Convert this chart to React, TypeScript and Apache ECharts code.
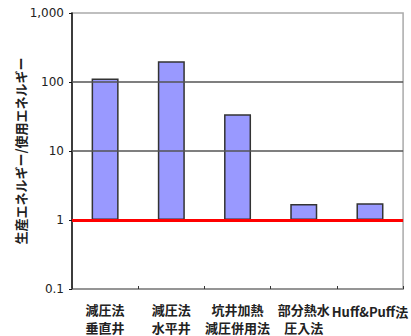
import React, { useEffect, useRef } from "react";
import * as echarts from "echarts";

// Energy return ratio (produced / consumed) by production method, log scale
const categories = [
  "減圧法\n垂直井",
  "減圧法\n水平井",
  "坑井加熱\n減圧併用法",
  "部分熱水\n圧入法",
  "Huff&Puff法",
];
const ratios = [112, 200, 34, 1.7, 1.75];
const gridLevels = [10, 100];
const breakEven = 1;

const labelText = (v: number) => (v >= 1000 ? v.toLocaleString("en-US") : String(v));

export default function App() {
  const ref = useRef<HTMLDivElement>(null);

  useEffect(() => {
    if (!ref.current) return;
    document.body.style.margin = "0";
    const chart = echarts.init(ref.current, undefined, { renderer: "svg" });
    chart.setOption({
      animation: false,
      grid: {
        left: 72,
        right: 6,
        top: 13,
        bottom: 47,
        show: true,
        borderColor: "#aaa",
        borderWidth: 1.5,
      },
      xAxis: {
        type: "category",
        data: categories,
        axisLine: { lineStyle: { color: "#888", width: 1.5 } },
        axisTick: { show: true, inside: true, length: 3, lineStyle: { color: "#333" } },
        axisLabel: {
          interval: 0,
          margin: 11,
          fontSize: 13,
          lineHeight: 18,
          fontWeight: "bold",
          color: "#222",
          fontFamily: "'Noto Sans CJK JP', sans-serif",
          formatter: (v: string) => (v.includes("\n") ? v : `{one|${v}}`),
          rich: {
            one: {
              fontSize: 13,
              fontWeight: "bold",
              color: "#222",
              padding: [5, 0, 0, 0],
              fontFamily: "'Noto Sans CJK JP', sans-serif",
            },
          },
        },
      },
      yAxis: {
        type: "log",
        logBase: 10,
        min: 0.1,
        max: 1000,
        name: "生産エネルギー/使用エネルギー",
        nameLocation: "middle",
        nameRotate: 90,
        nameGap: 45,
        nameMoveOverlap: false,
        nameTextStyle: {
          fontSize: 13,
          fontWeight: "bold",
          color: "#222",
          fontFamily: "'Noto Sans CJK JP', sans-serif",
        },
        axisLine: { show: true, lineStyle: { color: "#111", width: 1.5 } },
        axisTick: { show: true, length: 3, lineStyle: { color: "#111" } },
        splitLine: { show: false },
        axisLabel: {
          fontSize: 12,
          color: "#222",
          margin: 8,
          fontFamily: "'DejaVu Sans', sans-serif",
          formatter: (v: number) => labelText(v),
        },
      },
      series: [
        {
          type: "bar",
          data: ratios,
          barWidth: 27,
          itemStyle: { color: "#9999ff", borderColor: "#333", borderWidth: 1.5 },
          markLine: {
            silent: true,
            symbol: "none",
            label: { show: false },
            data: [
              ...gridLevels.map((v) => ({
                yAxis: v,
                lineStyle: { color: "#555", width: 1.5, type: "solid" },
              })),
              { yAxis: breakEven, lineStyle: { color: "#ff0000", width: 3, type: "solid" } },
            ],
          },
        },
      ],
    });
    return () => chart.dispose();
  }, []);

  return <div ref={ref} style={{ width: 411, height: 336 }} />;
}
